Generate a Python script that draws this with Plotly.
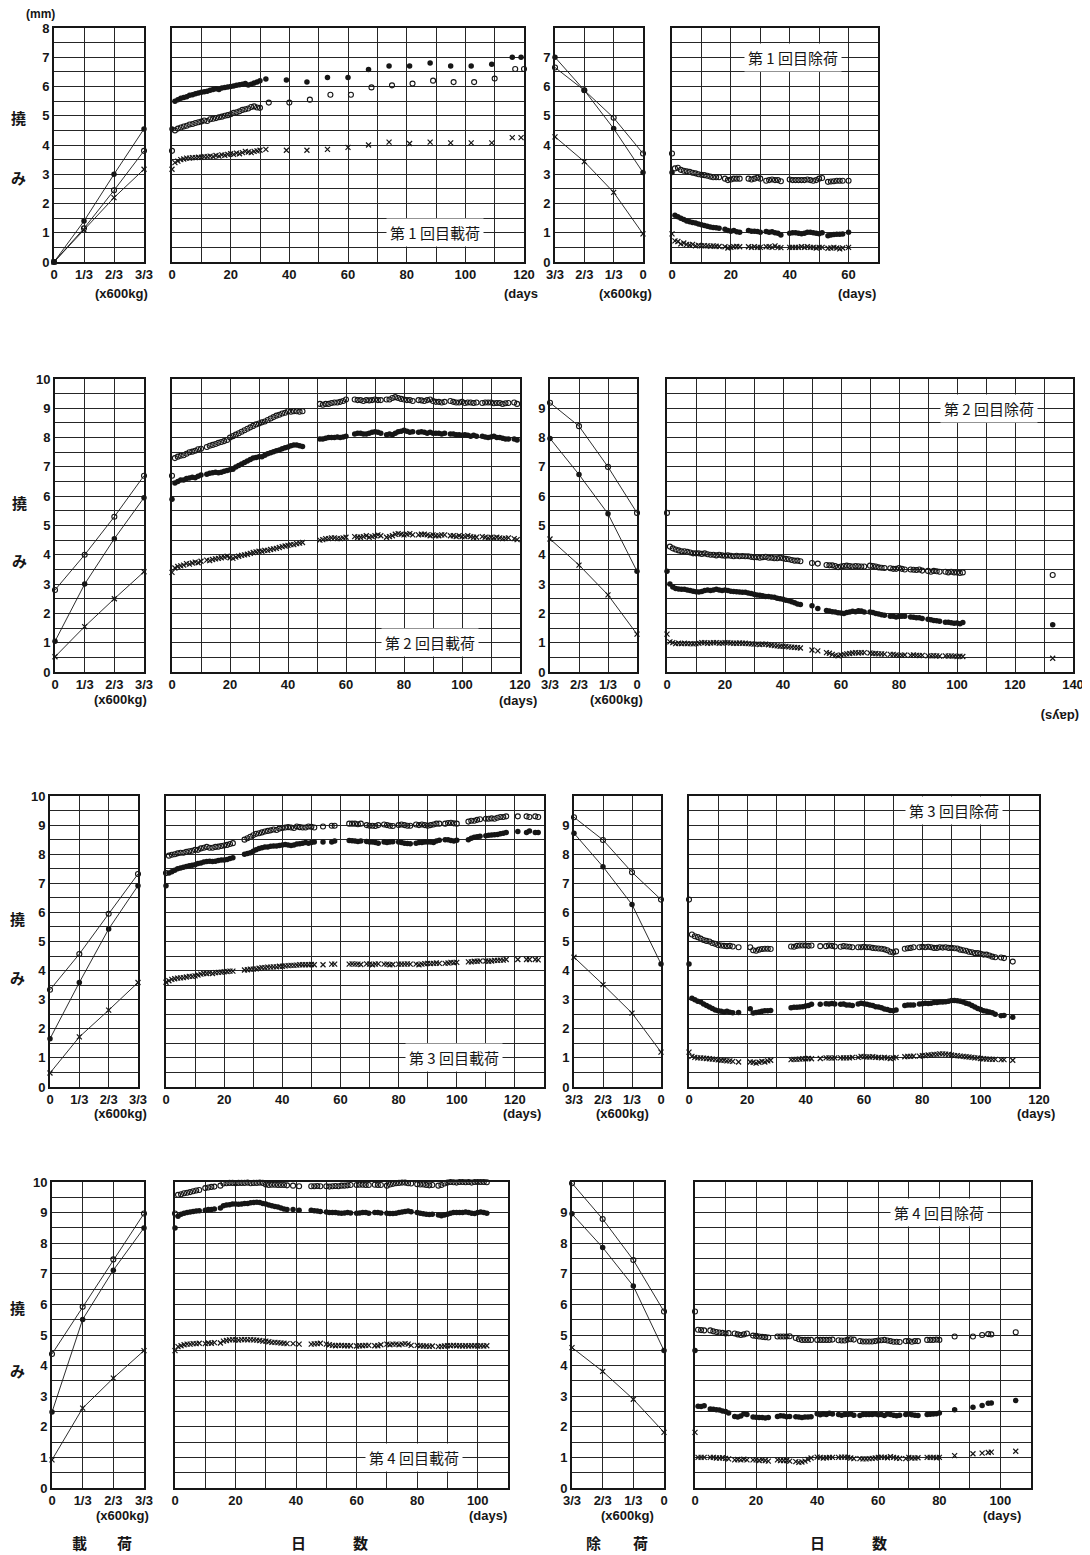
import plotly.graph_objects as go

# reference canvas is 1090 x 1555; the page body adds an 8 px margin,
# so the figure is drawn 8 px smaller and all pixel positions are shifted by 8.
REF_W, REF_H = 1090, 1555
OFF = 8
W, H = REF_W - OFF, REF_H - OFF

# ======================= DATA =======================
STEP_LABELS = ["0", "1/3", "2/3", "3/3"]
LOAD_STEPS = [0, 1, 2, 3]          # 0, 1/3, 2/3, 3/3 (x600 kg)
UNLOAD_STEPS = [3, 2, 1, 0]

# ---------- 1st cycle ----------
load1_open = [0.0, 1.15, 2.45, 3.80]
load1_fill = [0.0, 1.40, 3.00, 4.55]
load1_cross = [0.0, 1.10, 2.20, 3.17]

creep1_days = [0,
    1, 2, 3, 4, 5, 6, 7, 8, 9, 10,
    11, 12, 13, 14, 15, 16, 17, 18, 19, 20,
    21, 22, 23, 24, 25, 26, 27, 28, 29, 30,
    32, 39, 46, 53, 60, 67, 74, 81, 88, 95,
    102, 109, 116, 119]
creep1_days_open = [0,
    1, 2, 3, 4, 5, 6, 7, 8, 9, 10,
    11, 12, 13, 14, 15, 16, 17, 18, 19, 20,
    21, 22, 23, 24, 25, 26, 27, 28, 29, 30,
    33, 40, 47, 54, 61, 68, 75, 82, 89, 96,
    103, 110, 117, 120]
creep1_fill = [4.55,
    5.50, 5.55, 5.60, 5.62, 5.65, 5.70, 5.72, 5.75, 5.78, 5.80,
    5.82, 5.84, 5.87, 5.90, 5.92, 5.90, 5.95, 5.97, 5.98, 6.00,
    6.02, 6.04, 6.06, 6.08, 6.10, 6.05, 6.08, 6.12, 6.15, 6.20,
    6.26, 6.22, 6.15, 6.31, 6.31, 6.58, 6.70, 6.70, 6.80, 6.70,
    6.70, 6.76, 7.00, 7.00]
creep1_open = [3.80,
    4.50, 4.56, 4.60, 4.63, 4.66, 4.70, 4.72, 4.75, 4.78, 4.80,
    4.84, 4.82, 4.88, 4.90, 4.92, 4.95, 4.97, 5.00, 5.02, 5.05,
    5.10, 5.12, 5.15, 5.20, 5.22, 5.25, 5.30, 5.32, 5.28, 5.27,
    5.45, 5.45, 5.55, 5.72, 5.72, 5.97, 6.04, 6.10, 6.20, 6.15,
    6.15, 6.27, 6.60, 6.60]
creep1_cross = [3.17,
    3.40, 3.45, 3.50, 3.52, 3.55, 3.55, 3.57, 3.57, 3.58, 3.58,
    3.60, 3.60, 3.62, 3.60, 3.64, 3.62, 3.66, 3.65, 3.68, 3.70,
    3.68, 3.72, 3.70, 3.74, 3.78, 3.76, 3.74, 3.78, 3.80, 3.82,
    3.85, 3.82, 3.82, 3.85, 3.92, 4.00, 4.10, 4.05, 4.10, 4.07,
    4.07, 4.07, 4.25, 4.25]

unload1_open = [6.65, 5.87, 4.93, 3.71]
unload1_fill = [7.00, 5.87, 4.56, 3.06]
unload1_cross = [4.28, 3.43, 2.38, 0.96]

recov1_days = [0,
    1, 2, 3, 4, 5, 6, 7, 8, 9, 10, 11, 12, 13, 14, 15, 16,
    18, 19, 20, 21, 22, 23,
    26, 27, 28, 29, 30,
    32, 33, 34, 35, 36, 37,
    40, 41, 42, 43, 44, 45, 46, 47, 48, 49, 50, 51,
    53, 54, 55, 56, 57, 58,
    60]
recov1_open = [3.71,
    3.20, 3.22, 3.15, 3.12, 3.10, 3.08, 3.05, 3.03, 3.00, 2.98, 2.97, 2.95, 2.92, 2.90, 2.90, 2.90,
    2.85, 2.80, 2.82, 2.85, 2.85, 2.85,
    2.85, 2.82, 2.85, 2.88, 2.85,
    2.78, 2.80, 2.82, 2.80, 2.80, 2.76,
    2.82, 2.80, 2.80, 2.80, 2.80, 2.80, 2.82, 2.80, 2.78, 2.80, 2.85, 2.87,
    2.74, 2.75, 2.76, 2.78, 2.78, 2.78,
    2.78]
recov1_fill = [3.06,
    1.60, 1.55, 1.50, 1.45, 1.40, 1.38, 1.35, 1.33, 1.30, 1.27, 1.25, 1.22, 1.20, 1.18, 1.17, 1.15,
    1.12, 1.08, 1.05, 1.08, 1.03, 1.02,
    1.08, 1.05, 1.05, 1.04, 1.02,
    1.04, 1.02, 1.03, 1.00, 0.98, 0.92,
    0.98, 1.00, 1.00, 0.98, 0.97, 0.98, 1.02, 1.02, 1.00, 0.98, 0.97, 1.00,
    0.90, 0.92, 0.94, 0.95, 0.95, 0.96,
    1.02]
recov1_cross = [0.96,
    0.72, 0.70, 0.62, 0.65, 0.60, 0.58, 0.60, 0.55, 0.57, 0.55, 0.56, 0.55, 0.54, 0.55, 0.54, 0.53,
    0.52, 0.48, 0.50, 0.52, 0.53, 0.52,
    0.52, 0.50, 0.52, 0.50, 0.50,
    0.52, 0.52, 0.50, 0.55, 0.50, 0.49,
    0.50, 0.50, 0.50, 0.50, 0.52, 0.50, 0.52, 0.50, 0.50, 0.48, 0.50, 0.50,
    0.47, 0.48, 0.50, 0.48, 0.45, 0.48,
    0.50]

# ---------- 2nd cycle ----------
load2_open = [2.80, 4.00, 5.30, 6.70]
load2_fill = [1.05, 3.00, 4.55, 5.95]
load2_cross = [0.52, 1.55, 2.50, 3.42]

creep2_days = [0,
    1, 2, 3, 4, 5, 6, 7, 8, 9, 10,
    12, 13, 14, 15, 16, 17, 18, 19, 20,
    21, 22, 23, 24, 25, 26, 27, 28, 29, 30,
    31, 32, 33, 34, 35, 36, 37, 38, 39, 40,
    41, 42, 43, 44, 45,
    51, 52, 53, 54, 55, 56, 57, 58, 59, 60,
    63, 64, 65, 66, 67, 68, 69, 70, 71, 72,
    74, 75, 76, 77, 78, 79, 80, 81, 82, 83,
    85, 86, 87, 88, 89, 90, 91, 92, 93, 94,
    96, 97, 98, 99, 100, 101, 102, 103, 104, 105,
    107, 108, 109, 110, 111, 112, 113, 114, 115, 116,
    118, 119]
creep2_open = [6.70,
    7.30, 7.35, 7.38, 7.40, 7.45, 7.50, 7.52, 7.55, 7.60, 7.62,
    7.68, 7.72, 7.75, 7.78, 7.82, 7.85, 7.88, 7.92, 8.00,
    8.05, 8.10, 8.15, 8.20, 8.25, 8.30, 8.35, 8.40, 8.45, 8.48,
    8.52, 8.55, 8.60, 8.65, 8.70, 8.75, 8.78, 8.82, 8.85, 8.90,
    8.88, 8.90, 8.90, 8.88, 8.90,
    9.15, 9.12, 9.15, 9.15, 9.18, 9.20, 9.20, 9.22, 9.25, 9.30,
    9.30, 9.28, 9.28, 9.25, 9.28, 9.27, 9.28, 9.30, 9.28, 9.28,
    9.30, 9.30, 9.35, 9.38, 9.35, 9.32, 9.30, 9.28, 9.28, 9.25,
    9.28, 9.27, 9.25, 9.28, 9.30, 9.25, 9.22, 9.22, 9.20, 9.22,
    9.25, 9.22, 9.20, 9.20, 9.22, 9.18, 9.20, 9.20, 9.18, 9.20,
    9.18, 9.20, 9.20, 9.20, 9.17, 9.18, 9.18, 9.15, 9.17, 9.18,
    9.20, 9.15]
creep2_fill = [5.90,
    6.45, 6.50, 6.55, 6.55, 6.60, 6.62, 6.65, 6.63, 6.68, 6.72,
    6.75, 6.78, 6.80, 6.82, 6.80, 6.82, 6.85, 6.88, 6.90,
    6.92, 7.00, 7.05, 7.10, 7.15, 7.20, 7.25, 7.30, 7.32, 7.35,
    7.35, 7.40, 7.45, 7.48, 7.52, 7.55, 7.58, 7.62, 7.65, 7.68,
    7.72, 7.75, 7.75, 7.72, 7.70,
    7.95, 7.95, 7.98, 8.00, 8.00, 8.00, 8.02, 8.00, 8.02, 8.05,
    8.12, 8.15, 8.15, 8.12, 8.12, 8.15, 8.18, 8.20, 8.18, 8.15,
    8.10, 8.12, 8.10, 8.15, 8.20, 8.22, 8.25, 8.22, 8.18, 8.20,
    8.18, 8.20, 8.18, 8.15, 8.18, 8.15, 8.15, 8.15, 8.12, 8.15,
    8.12, 8.12, 8.10, 8.10, 8.08, 8.10, 8.08, 8.05, 8.08, 8.05,
    8.05, 8.02, 8.00, 8.02, 8.05, 8.00, 8.00, 7.98, 7.95, 7.95,
    7.95, 7.92]
creep2_cross = [3.40,
    3.55, 3.60, 3.62, 3.65, 3.70, 3.68, 3.72, 3.75, 3.73, 3.78,
    3.82, 3.80, 3.84, 3.86, 3.88, 3.90, 3.92, 3.95, 3.90,
    3.88, 3.92, 3.95, 3.98, 4.00, 4.02, 4.05, 4.08, 4.10, 4.12,
    4.12, 4.15, 4.15, 4.18, 4.20, 4.22, 4.25, 4.28, 4.30, 4.32,
    4.35, 4.35, 4.38, 4.40, 4.42,
    4.50, 4.52, 4.55, 4.55, 4.58, 4.58, 4.55, 4.55, 4.58, 4.60,
    4.62, 4.60, 4.60, 4.62, 4.65, 4.60, 4.62, 4.65, 4.68, 4.65,
    4.60, 4.62, 4.65, 4.70, 4.72, 4.70, 4.68, 4.70, 4.72, 4.68,
    4.68, 4.70, 4.70, 4.68, 4.65, 4.68, 4.65, 4.65, 4.68, 4.68,
    4.65, 4.65, 4.62, 4.65, 4.62, 4.62, 4.65, 4.62, 4.60, 4.60,
    4.62, 4.60, 4.58, 4.60, 4.58, 4.60, 4.58, 4.55, 4.56, 4.58,
    4.55, 4.52]

unload2_open = [9.19, 8.39, 7.00, 5.43]
unload2_fill = [7.97, 6.74, 5.40, 3.44]
unload2_cross = [4.54, 3.65, 2.63, 1.29]

recov2_days = [0,
    1, 2, 3, 4, 5, 6, 7, 8, 9, 10,
    11, 12, 13, 14, 15, 16, 17, 18, 19, 20,
    21, 22, 23, 24, 25, 26, 27, 28, 29, 30,
    31, 32, 33, 34, 35, 36, 37, 38, 39, 40,
    41, 42, 43, 44, 45, 46,
    50, 52, 55, 56, 57, 58, 59, 60,
    61, 62, 63, 64, 65, 66, 67, 68, 70, 71,
    72, 73, 74, 75, 77, 78, 79, 80, 81, 82,
    84, 85, 86, 87, 88, 90, 91, 92, 93, 94,
    96, 97, 98, 99, 100, 101, 102,
    133]
recov2_open = [5.43,
    4.28, 4.22, 4.18, 4.15, 4.12, 4.12, 4.10, 4.08, 4.05, 4.05,
    4.05, 4.03, 4.05, 4.02, 4.00, 4.00, 3.98, 4.00, 3.98, 3.97,
    3.98, 3.97, 3.95, 3.97, 3.95, 3.96, 3.95, 3.95, 3.93, 3.92,
    3.92, 3.90, 3.92, 3.93, 3.90, 3.90, 3.88, 3.88, 3.90, 3.88,
    3.86, 3.85, 3.82, 3.80, 3.80, 3.78,
    3.72, 3.70, 3.65, 3.64, 3.64, 3.62, 3.58, 3.60,
    3.62, 3.63, 3.62, 3.60, 3.62, 3.61, 3.60, 3.60, 3.63, 3.62,
    3.60, 3.57, 3.56, 3.55, 3.54, 3.52, 3.52, 3.55, 3.52, 3.50,
    3.50, 3.49, 3.48, 3.50, 3.46, 3.45, 3.42, 3.45, 3.44, 3.42,
    3.42, 3.40, 3.42, 3.40, 3.40, 3.38, 3.40,
    3.31]
recov2_fill = [3.44,
    3.00, 2.90, 2.85, 2.83, 2.82, 2.82, 2.80, 2.78, 2.76, 2.74,
    2.73, 2.75, 2.78, 2.80, 2.78, 2.80, 2.82, 2.80, 2.78, 2.80,
    2.78, 2.76, 2.75, 2.74, 2.73, 2.72, 2.72, 2.70, 2.68, 2.65,
    2.63, 2.62, 2.60, 2.58, 2.58, 2.56, 2.55, 2.52, 2.50, 2.48,
    2.45, 2.43, 2.40, 2.36, 2.32, 2.30,
    2.26, 2.17, 2.10, 2.08, 2.06, 2.05, 2.02, 2.01,
    2.00, 2.03, 2.05, 2.07, 2.06, 2.09, 2.08, 2.05, 2.05, 2.03,
    2.00, 1.98, 1.95, 1.94, 1.90, 1.90, 1.88, 1.89, 1.90, 1.90,
    1.88, 1.87, 1.85, 1.85, 1.83, 1.80, 1.78, 1.76, 1.75, 1.73,
    1.70, 1.70, 1.68, 1.66, 1.67, 1.65, 1.69,
    1.61]
recov2_cross = [1.29,
    1.03, 1.00, 0.97, 0.98, 0.97, 0.98, 0.97, 0.97, 0.96, 0.97,
    0.98, 1.00, 1.00, 0.98, 0.99, 1.00, 1.00, 0.98, 0.99, 1.00,
    1.00, 0.99, 0.98, 0.98, 0.99, 0.98, 0.98, 0.97, 0.96, 0.95,
    0.95, 0.94, 0.95, 0.95, 0.93, 0.92, 0.90, 0.89, 0.88, 0.88,
    0.87, 0.86, 0.85, 0.84, 0.83, 0.82,
    0.75, 0.72, 0.66, 0.64, 0.60, 0.57, 0.55, 0.58,
    0.60, 0.62, 0.63, 0.65, 0.66, 0.65, 0.66, 0.66, 0.65, 0.63,
    0.63, 0.62, 0.62, 0.61, 0.60, 0.60, 0.58, 0.57, 0.57, 0.58,
    0.57, 0.58, 0.57, 0.56, 0.57, 0.55, 0.55, 0.56, 0.55, 0.54,
    0.55, 0.54, 0.55, 0.54, 0.53, 0.54, 0.53,
    0.47]

# ---------- 3rd cycle ----------
load3_open = [3.34, 4.57, 5.95, 7.32]
load3_fill = [1.66, 3.59, 5.43, 6.92]
load3_cross = [0.48, 1.72, 2.64, 3.59]

creep3_days = [0,
    1, 2, 3, 4, 5, 6, 7, 8, 9, 10,
    11, 12, 13, 14, 15, 16, 17, 18, 19, 20,
    21, 22, 23, 27, 28, 29, 30, 31, 32, 33,
    34, 35, 36, 37, 38, 39, 40, 41, 42, 43,
    44, 45, 46, 47, 48, 49, 50, 51, 54, 57,
    58, 63, 64, 65, 66, 67, 69, 70, 71, 72,
    73, 75, 76, 77, 78, 80, 81, 82, 83, 84,
    86, 87, 88, 89, 90, 91, 92, 93, 94, 96,
    97, 98, 99, 100, 104, 105, 106, 107, 108, 110,
    111, 112, 113, 114, 115, 116, 117, 121, 124, 125,
    127, 128]
creep3_open = [7.35,
    7.95, 7.98, 8.00, 8.03, 8.05, 8.05, 8.08, 8.10, 8.12, 8.15,
    8.15, 8.20, 8.22, 8.25, 8.22, 8.22, 8.25, 8.26, 8.28, 8.30,
    8.32, 8.35, 8.38, 8.50, 8.55, 8.60, 8.65, 8.70, 8.72, 8.75,
    8.78, 8.80, 8.82, 8.85, 8.83, 8.88, 8.90, 8.92, 8.93, 8.92,
    8.90, 8.95, 8.93, 8.92, 8.92, 8.95, 8.94, 8.92, 8.95, 8.98,
    8.98, 9.05, 9.05, 9.05, 9.03, 9.05, 9.00, 8.98, 8.98, 8.97,
    9.00, 9.02, 9.00, 8.98, 8.97, 9.00, 9.02, 9.00, 8.98, 8.98,
    9.02, 9.00, 9.02, 9.00, 8.98, 9.00, 9.02, 9.05, 9.05, 9.05,
    9.07, 9.08, 9.06, 9.05, 9.12, 9.15, 9.15, 9.18, 9.20, 9.22,
    9.22, 9.23, 9.22, 9.25, 9.28, 9.28, 9.30, 9.30, 9.30, 9.28,
    9.30, 9.28]
creep3_fill = [6.92,
    7.35, 7.40, 7.45, 7.50, 7.53, 7.55, 7.58, 7.60, 7.62, 7.64,
    7.68, 7.70, 7.73, 7.75, 7.76, 7.75, 7.76, 7.78, 7.80, 7.80,
    7.82, 7.85, 7.88, 8.00, 8.02, 8.05, 8.10, 8.15, 8.20, 8.22,
    8.25, 8.25, 8.27, 8.28, 8.28, 8.30, 8.32, 8.33, 8.32, 8.30,
    8.32, 8.35, 8.36, 8.38, 8.40, 8.38, 8.40, 8.42, 8.42, 8.42,
    8.45, 8.47, 8.46, 8.45, 8.44, 8.45, 8.44, 8.42, 8.42, 8.40,
    8.38, 8.42, 8.40, 8.42, 8.43, 8.42, 8.40, 8.38, 8.37, 8.36,
    8.38, 8.40, 8.40, 8.42, 8.42, 8.42, 8.40, 8.45, 8.48, 8.50,
    8.50, 8.47, 8.45, 8.48, 8.50, 8.55, 8.58, 8.60, 8.62, 8.63,
    8.65, 8.66, 8.67, 8.68, 8.70, 8.72, 8.75, 8.78, 8.75, 8.80,
    8.75, 8.75]
creep3_cross = [3.60,
    3.65, 3.70, 3.72, 3.74, 3.75, 3.76, 3.78, 3.80, 3.80, 3.82,
    3.85, 3.88, 3.90, 3.90, 3.92, 3.90, 3.93, 3.94, 3.95, 3.96,
    3.97, 3.98, 3.98, 4.02, 4.03, 4.05, 4.05, 4.06, 4.08, 4.10,
    4.10, 4.12, 4.12, 4.13, 4.13, 4.15, 4.15, 4.16, 4.17, 4.18,
    4.18, 4.19, 4.20, 4.20, 4.20, 4.20, 4.21, 4.20, 4.20, 4.22,
    4.22, 4.22, 4.23, 4.22, 4.22, 4.21, 4.23, 4.22, 4.20, 4.22,
    4.23, 4.22, 4.22, 4.20, 4.21, 4.22, 4.22, 4.22, 4.23, 4.22,
    4.22, 4.20, 4.22, 4.24, 4.25, 4.24, 4.25, 4.26, 4.25, 4.25,
    4.26, 4.28, 4.27, 4.28, 4.30, 4.30, 4.32, 4.32, 4.33, 4.33,
    4.32, 4.33, 4.35, 4.35, 4.36, 4.36, 4.38, 4.38, 4.38, 4.38,
    4.38, 4.37]

unload3_open = [9.27, 8.49, 7.38, 6.44]
unload3_fill = [8.72, 7.57, 6.27, 4.23]
unload3_cross = [4.46, 3.52, 2.54, 1.20]

recov3_days = [0,
    1, 2, 3, 4, 5, 6, 7, 8, 9, 10,
    11, 12, 13, 14, 15, 17, 21, 22, 23, 24,
    25, 26, 27, 28, 35, 36, 37, 38, 39, 40,
    41, 42, 45, 47, 48, 49, 50, 52, 53, 54,
    55, 56, 58, 59, 60, 61, 62, 63, 64, 65,
    66, 67, 68, 69, 70, 71, 74, 75, 76, 77,
    79, 80, 81, 82, 83, 84, 85, 86, 87, 88,
    89, 90, 91, 92, 93, 94, 95, 96, 97, 98,
    99, 100, 101, 102, 103, 104, 105, 107, 108, 111]
recov3_open = [6.44,
    5.24, 5.18, 5.15, 5.10, 5.05, 5.02, 5.00, 4.95, 4.92, 4.88,
    4.86, 4.85, 4.84, 4.85, 4.83, 4.80, 4.80, 4.70, 4.68, 4.72,
    4.74, 4.75, 4.75, 4.74, 4.83, 4.82, 4.85, 4.86, 4.86, 4.86,
    4.85, 4.86, 4.84, 4.84, 4.86, 4.85, 4.83, 4.82, 4.84, 4.83,
    4.82, 4.80, 4.80, 4.80, 4.82, 4.80, 4.80, 4.78, 4.77, 4.76,
    4.75, 4.73, 4.70, 4.65, 4.62, 4.66, 4.75, 4.77, 4.78, 4.80,
    4.80, 4.82, 4.80, 4.82, 4.80, 4.78, 4.78, 4.80, 4.79, 4.80,
    4.78, 4.78, 4.77, 4.76, 4.72, 4.70, 4.68, 4.65, 4.63, 4.60,
    4.60, 4.58, 4.55, 4.55, 4.52, 4.48, 4.46, 4.45, 4.43, 4.31]
recov3_fill = [4.23,
    3.05, 3.00, 2.95, 2.92, 2.85, 2.80, 2.75, 2.70, 2.65, 2.62,
    2.60, 2.58, 2.60, 2.57, 2.55, 2.56, 2.69, 2.54, 2.56, 2.58,
    2.60, 2.62, 2.62, 2.63, 2.72, 2.74, 2.74, 2.75, 2.76, 2.78,
    2.80, 2.84, 2.84, 2.86, 2.85, 2.87, 2.85, 2.84, 2.85, 2.82,
    2.82, 2.80, 2.85, 2.88, 2.86, 2.84, 2.82, 2.80, 2.76, 2.75,
    2.72, 2.68, 2.66, 2.63, 2.62, 2.65, 2.80, 2.82, 2.82, 2.82,
    2.85, 2.86, 2.88, 2.87, 2.88, 2.90, 2.90, 2.92, 2.92, 2.93,
    2.95, 2.97, 2.97, 2.96, 2.95, 2.92, 2.88, 2.85, 2.80, 2.75,
    2.70, 2.66, 2.62, 2.60, 2.58, 2.55, 2.50, 2.45, 2.46, 2.40]
recov3_cross = [1.20,
    1.05, 1.02, 1.00, 1.00, 0.99, 0.98, 0.97, 0.96, 0.95, 0.93,
    0.92, 0.92, 0.90, 0.90, 0.88, 0.86, 0.86, 0.85, 0.82, 0.85,
    0.88, 0.86, 0.90, 0.92, 0.94, 0.95, 0.95, 0.96, 0.97, 0.97,
    0.98, 0.97, 0.98, 1.00, 1.00, 0.99, 1.00, 1.00, 1.00, 1.00,
    1.00, 1.02, 1.02, 1.05, 1.04, 1.03, 1.03, 1.04, 1.02, 1.02,
    1.00, 1.02, 1.00, 0.98, 1.00, 1.02, 1.04, 1.05, 1.05, 1.06,
    1.06, 1.08, 1.08, 1.10, 1.10, 1.12, 1.12, 1.14, 1.14, 1.13,
    1.12, 1.10, 1.08, 1.08, 1.06, 1.05, 1.04, 1.03, 1.02, 1.00,
    1.00, 0.98, 0.97, 0.96, 0.96, 0.95, 0.95, 0.94, 0.94, 0.92]

# ---------- 4th cycle ----------
load4_open = [4.38, 5.92, 7.47, 8.97]
load4_fill = [2.48, 5.51, 7.12, 8.50]
load4_cross = [0.92, 2.61, 3.59, 4.49]

creep4_days = [0,
    1, 2, 3, 4, 5, 6, 7, 8, 10, 11,
    12, 13, 15, 16, 17, 18, 19, 20, 21, 22,
    23, 24, 25, 26, 27, 28, 29, 30, 31, 32,
    33, 34, 35, 36, 37, 39, 41, 45, 46, 47,
    48, 50, 51, 52, 53, 54, 55, 56, 57, 58,
    60, 61, 62, 63, 64, 66, 67, 68, 70, 71,
    72, 73, 74, 75, 76, 77, 78, 80, 81, 82,
    83, 84, 85, 87, 88, 89, 90, 91, 92, 93,
    94, 95, 96, 97, 98, 99, 100, 101, 102, 103]
creep4_open = [8.97,
    9.58, 9.60, 9.63, 9.65, 9.67, 9.70, 9.72, 9.74, 9.80, 9.82,
    9.84, 9.85, 9.88, 9.95, 9.96, 9.97, 9.97, 9.96, 9.97, 9.97,
    9.97, 9.98, 9.96, 9.97, 9.97, 9.98, 9.97, 9.92, 9.90, 9.91,
    9.91, 9.90, 9.90, 9.90, 9.89, 9.88, 9.86, 9.86, 9.86, 9.87,
    9.86, 9.86, 9.85, 9.86, 9.87, 9.86, 9.88, 9.88, 9.89, 9.90,
    9.90, 9.91, 9.91, 9.90, 9.90, 9.91, 9.90, 9.90, 9.88, 9.92,
    9.94, 9.96, 9.97, 9.98, 9.98, 9.96, 9.95, 9.93, 9.92, 9.92,
    9.90, 9.89, 9.90, 9.88, 9.90, 9.95, 9.98, 10.00, 9.99, 9.98,
    10.00, 10.00, 9.99, 10.00, 9.98, 10.00, 10.00, 10.00, 10.00, 9.99]
creep4_fill = [8.50,
    8.88, 8.95, 8.98, 9.00, 9.02, 9.04, 9.05, 9.06, 9.08, 9.10,
    9.10, 9.12, 9.15, 9.22, 9.25, 9.26, 9.28, 9.28, 9.27, 9.28,
    9.30, 9.30, 9.32, 9.33, 9.34, 9.33, 9.30, 9.28, 9.25, 9.22,
    9.20, 9.18, 9.15, 9.12, 9.10, 9.10, 9.08, 9.08, 9.06, 9.05,
    9.04, 9.02, 9.00, 9.00, 9.00, 8.99, 8.98, 8.99, 9.00, 8.99,
    8.98, 8.99, 9.00, 9.00, 8.98, 9.00, 9.00, 8.99, 8.98, 8.97,
    8.97, 8.98, 9.00, 9.02, 9.04, 9.05, 9.03, 9.00, 8.98, 8.96,
    8.95, 8.94, 8.95, 8.92, 8.90, 8.92, 8.95, 8.98, 9.00, 9.00,
    9.00, 9.00, 9.02, 9.00, 8.98, 8.97, 9.00, 9.02, 9.00, 8.98]
creep4_cross = [4.49,
    4.62, 4.65, 4.68, 4.70, 4.70, 4.72, 4.72, 4.73, 4.72, 4.74,
    4.73, 4.75, 4.74, 4.80, 4.82, 4.84, 4.85, 4.84, 4.83, 4.85,
    4.85, 4.84, 4.85, 4.84, 4.83, 4.82, 4.80, 4.80, 4.78, 4.76,
    4.76, 4.75, 4.74, 4.73, 4.72, 4.72, 4.70, 4.70, 4.71, 4.72,
    4.73, 4.70, 4.68, 4.66, 4.65, 4.66, 4.66, 4.65, 4.65, 4.65,
    4.64, 4.65, 4.65, 4.66, 4.66, 4.65, 4.65, 4.68, 4.70, 4.68,
    4.70, 4.70, 4.68, 4.70, 4.72, 4.70, 4.66, 4.66, 4.65, 4.64,
    4.64, 4.63, 4.64, 4.62, 4.63, 4.64, 4.65, 4.65, 4.66, 4.65,
    4.65, 4.64, 4.65, 4.64, 4.65, 4.65, 4.64, 4.65, 4.64, 4.65]

unload4_open = [9.96, 8.79, 7.45, 5.77]
unload4_fill = [8.96, 7.86, 6.60, 4.49]
unload4_cross = [4.59, 3.81, 2.90, 1.82]

recov4_days = [0,
    1, 2, 3, 5, 6, 7, 8, 9, 10, 11,
    13, 14, 15, 16, 17, 19, 20, 21, 22, 23,
    24, 27, 28, 29, 30, 31, 33, 34, 35, 36,
    37, 38, 40, 41, 42, 43, 44, 45, 47, 48,
    49, 50, 51, 52, 54, 55, 56, 57, 58, 59,
    60, 61, 62, 63, 64, 65, 66, 67, 69, 70,
    71, 72, 73, 76, 77, 78, 79, 80, 85, 91,
    94, 96, 97, 105]
recov4_open = [5.77,
    5.17, 5.16, 5.15, 5.15, 5.12, 5.10, 5.08, 5.07, 5.05, 5.06,
    5.05, 5.02, 5.00, 5.02, 5.05, 4.98, 4.97, 4.95, 4.94, 4.93,
    4.92, 4.95, 4.95, 4.95, 4.95, 4.96, 4.90, 4.86, 4.84, 4.84,
    4.84, 4.84, 4.84, 4.84, 4.84, 4.84, 4.84, 4.85, 4.83, 4.82,
    4.82, 4.85, 4.86, 4.85, 4.80, 4.79, 4.79, 4.79, 4.79, 4.80,
    4.82, 4.83, 4.84, 4.82, 4.80, 4.78, 4.78, 4.77, 4.80, 4.80,
    4.78, 4.80, 4.80, 4.84, 4.84, 4.84, 4.85, 4.84, 4.95, 4.95,
    5.00, 5.03, 5.02, 5.09]
recov4_fill = [4.49,
    2.67, 2.66, 2.69, 2.58, 2.57, 2.56, 2.55, 2.52, 2.50, 2.45,
    2.34, 2.32, 2.35, 2.43, 2.40, 2.32, 2.31, 2.30, 2.30, 2.29,
    2.30, 2.34, 2.36, 2.35, 2.33, 2.34, 2.33, 2.32, 2.30, 2.32,
    2.32, 2.33, 2.43, 2.39, 2.42, 2.40, 2.44, 2.42, 2.40, 2.38,
    2.40, 2.40, 2.42, 2.38, 2.37, 2.40, 2.40, 2.40, 2.40, 2.42,
    2.39, 2.40, 2.37, 2.42, 2.40, 2.38, 2.36, 2.38, 2.40, 2.42,
    2.39, 2.38, 2.37, 2.40, 2.41, 2.42, 2.43, 2.45, 2.56, 2.64,
    2.70, 2.77, 2.78, 2.86]
recov4_cross = [1.82,
    1.00, 1.00, 1.00, 1.00, 1.00, 0.98, 0.98, 0.99, 0.97, 0.95,
    0.92, 0.93, 0.92, 0.94, 0.92, 0.92, 0.92, 0.90, 0.92, 0.90,
    0.88, 0.92, 0.90, 0.90, 0.90, 0.88, 0.86, 0.84, 0.85, 0.88,
    0.93, 0.98, 1.01, 1.00, 0.98, 0.99, 1.00, 1.00, 1.00, 1.01,
    1.01, 1.00, 0.98, 0.96, 0.96, 0.95, 0.95, 0.96, 0.97, 0.98,
    1.00, 1.01, 1.00, 0.99, 1.02, 1.00, 0.98, 0.97, 0.96, 1.00,
    0.98, 0.98, 0.99, 1.00, 1.00, 1.00, 0.99, 1.00, 1.06, 1.12,
    1.14, 1.16, 1.17, 1.20]

panel_titles = ["第 1 回目載荷", "第 1 回目除荷", "第 2 回目載荷", "第 2 回目除荷",
                "第 3 回目載荷", "第 3 回目除荷", "第 4 回目載荷", "第 4 回目除荷"]

# ======================= LAYOUT =======================
INK = "#161616"
TICKFONT = dict(family="Liberation Sans", size=13, color=INK, weight="bold")
JP = "Noto Sans CJK JP"

rows_y = [(28, 262), (379, 672), (796, 1087), (1182, 1488)]
rows_ymax = [8, 10, 10, 10]
cols_x = [
    [(54, 144), (172, 524), (555, 643), (672, 878)],
    [(55, 144), (172, 520), (550, 637), (667, 1073)],
    [(50, 138), (166, 544), (574, 661), (689, 1039)],
    [(52, 144), (175, 508), (572, 664), (695, 1031)],
]
creep_xmax = [120, 120, 130, 110]
recov_xmax = [70, 140, 120, 110]
recov_lab_max = [60, 140, 120, 100]
creep_lab_max = [120, 120, 120, 100]

cycles = [
    dict(load=(load1_open, load1_fill, load1_cross),
         creep=((creep1_days_open, creep1_open), (creep1_days, creep1_fill), (creep1_days, creep1_cross)),
         unload=(unload1_open, unload1_fill, unload1_cross),
         recov=((recov1_days, recov1_open), (recov1_days, recov1_fill), (recov1_days, recov1_cross))),
    dict(load=(load2_open, load2_fill, load2_cross),
         creep=((creep2_days, creep2_open), (creep2_days, creep2_fill), (creep2_days, creep2_cross)),
         unload=(unload2_open, unload2_fill, unload2_cross),
         recov=((recov2_days, recov2_open), (recov2_days, recov2_fill), (recov2_days, recov2_cross))),
    dict(load=(load3_open, load3_fill, load3_cross),
         creep=((creep3_days, creep3_open), (creep3_days, creep3_fill), (creep3_days, creep3_cross)),
         unload=(unload3_open, unload3_fill, unload3_cross),
         recov=((recov3_days, recov3_open), (recov3_days, recov3_fill), (recov3_days, recov3_cross))),
    dict(load=(load4_open, load4_fill, load4_cross),
         creep=((creep4_days, creep4_open), (creep4_days, creep4_fill), (creep4_days, creep4_cross)),
         unload=(unload4_open, unload4_fill, unload4_cross),
         recov=((recov4_days, recov4_open), (recov4_days, recov4_fill), (recov4_days, recov4_cross))),
]

MARKERS = [
    dict(symbol="circle-open", size=5, color=INK, line=dict(width=1.1, color=INK)),
    dict(symbol="circle", size=5.5, color=INK, line=dict(width=0)),
    dict(symbol="x-thin-open", size=5, color=INK, line=dict(width=1.2, color=INK)),
]

fig = go.Figure()
layout = dict(width=W, height=H,
              margin=dict(l=0, r=0, t=0, b=0, pad=0, autoexpand=False),
              paper_bgcolor="white", plot_bgcolor="white", showlegend=False)


def dom_x(a, b):
    return [(a - OFF) / W, (b - OFF) / W]


def dom_y(top, bottom):
    return [1 - (bottom - OFF) / H, 1 - (top - OFF) / H]


def axis_common():
    return dict(showline=True, mirror=True, linecolor=INK, linewidth=1.7,
                showgrid=True, gridcolor="#262626", gridwidth=1.1,
                zeroline=False, ticks="", tickfont=TICKFONT, fixedrange=True,
                automargin=False)


def add_traces(idx, xs_list, ys_list, with_lines):
    for k in range(3):
        xs, ys = xs_list[k], ys_list[k]
        n = min(len(xs), len(ys))
        fig.add_trace(go.Scatter(
            x=xs[:n], y=ys[:n],
            mode="lines+markers" if with_lines else "markers",
            line=dict(color=INK, width=0.9),
            marker=MARKERS[k], cliponaxis=False,
            xaxis="x" if idx == 1 else f"x{idx}",
            yaxis="y" if idx == 1 else f"y{idx}",
            hoverinfo="skip"))


annotations = []
for r in range(4):
    ytop, ybot = rows_y[r]
    ymax = rows_ymax[r]
    cyc = cycles[r]
    for c in range(4):
        idx = r * 4 + c + 1
        xa = axis_common()
        ya = axis_common()
        xa["domain"] = dom_x(*cols_x[r][c])
        ya["domain"] = dom_y(ytop, ybot)
        xa["anchor"] = "y" if idx == 1 else f"y{idx}"
        ya["anchor"] = "x" if idx == 1 else f"x{idx}"
        yvals = [k * 0.5 for k in range(2 * ymax + 1)]
        ya["range"] = [0, ymax]
        ya["tickmode"] = "array"
        ya["tickvals"] = yvals
        if c == 0:
            ya["ticktext"] = [str(int(v)) if v == int(v) else "" for v in yvals]
        elif c == 2:
            ya["ticktext"] = [str(int(v)) if (v == int(v) and v < ymax) else "" for v in yvals]
        else:
            ya["ticktext"] = ["" for v in yvals]
        if c == 0:
            xa["range"] = [0, 3]
            xa["tickmode"] = "array"
            xa["tickvals"] = LOAD_STEPS
            xa["ticktext"] = STEP_LABELS
            add_traces(idx, [LOAD_STEPS] * 3, list(cyc["load"]), True)
        elif c == 2:
            xa["range"] = [3, 0]
            xa["tickmode"] = "array"
            xa["tickvals"] = UNLOAD_STEPS
            xa["ticktext"] = [STEP_LABELS[v] for v in UNLOAD_STEPS]
            add_traces(idx, [UNLOAD_STEPS] * 3, list(cyc["unload"]), True)
        else:
            xmax = creep_xmax[r] if c == 1 else recov_xmax[r]
            labmax = creep_lab_max[r] if c == 1 else recov_lab_max[r]
            xv = list(range(0, xmax + 1, 10))
            xa["range"] = [0, xmax]
            xa["tickmode"] = "array"
            xa["tickvals"] = xv
            xa["ticktext"] = [str(v) if (v % 20 == 0 and v <= labmax) else "" for v in xv]
            series = cyc["creep"] if c == 1 else cyc["recov"]
            add_traces(idx, [s[0] for s in series], [s[1] for s in series], False)
        sfx = "" if idx == 1 else str(idx)
        layout[f"xaxis{sfx}"] = xa
        layout[f"yaxis{sfx}"] = ya

# in-panel titles placed on a grid line (data coordinates)
title_pos = [(2, 89.5, 1.0), (4, 41, 7.0), (6, 89, 1.0), (8, 111, 9.0),
             (10, 99, 1.0), (12, 91, 9.5), (14, 79, 1.0), (16, 80, 9.0)]
for (idx, xd, yd), txt in zip(title_pos, panel_titles):
    annotations.append(dict(text=txt, x=xd, y=yd, xref=f"x{idx}", yref=f"y{idx}",
                            showarrow=False, bgcolor="white", borderpad=3,
                            font=dict(family=JP, size=15, color=INK)))


def pann(text, xp, yp, size=12, family="Liberation Sans", bold=True, angle=0):
    f = dict(family=family, size=size, color=INK)
    if bold:
        f["weight"] = "bold"
    annotations.append(dict(text=text, x=(xp - OFF) / W, y=1 - (yp - OFF) / H,
                            xref="paper", yref="paper",
                            showarrow=False, xanchor="center", yanchor="middle",
                            font=f, textangle=angle))


pann("(mm)", 40, 14, 12)
for (ya, yb, xk) in [(118, 177, 18), (503, 560, 19), (918, 977, 17), (1307, 1370, 17)]:
    pann("撓", xk, ya, 15, JP, True)
    pann("み", xk, yb, 15, JP, True)

for (xa_, xc_, yk) in [(121, 625, 293), (120, 616, 699), (120, 622, 1113), (122, 627, 1515)]:
    pann("(x600kg)", xa_, yk, 13)
    pann("(x600kg)", xc_, yk, 13)

pann("(days", 521, 293, 13)
pann("(days)", 857, 293, 13)
pann("(days)", 518, 700, 13)
pann("(days)", 1060, 716, 13, angle=180)
pann("(days)", 522, 1113, 13)
pann("(days)", 1036, 1113, 13)
pann("(days)", 488, 1515, 13)
pann("(days)", 1002, 1515, 13)

for (t, xp) in [("載", 79), ("荷", 124), ("日", 298), ("数", 360),
                ("除", 593), ("荷", 640), ("日", 817), ("数", 879)]:
    pann(t, xp, 1542, 15, JP, True)

layout["annotations"] = annotations
fig.update_layout(**layout)
fig.write_html("out.html")
